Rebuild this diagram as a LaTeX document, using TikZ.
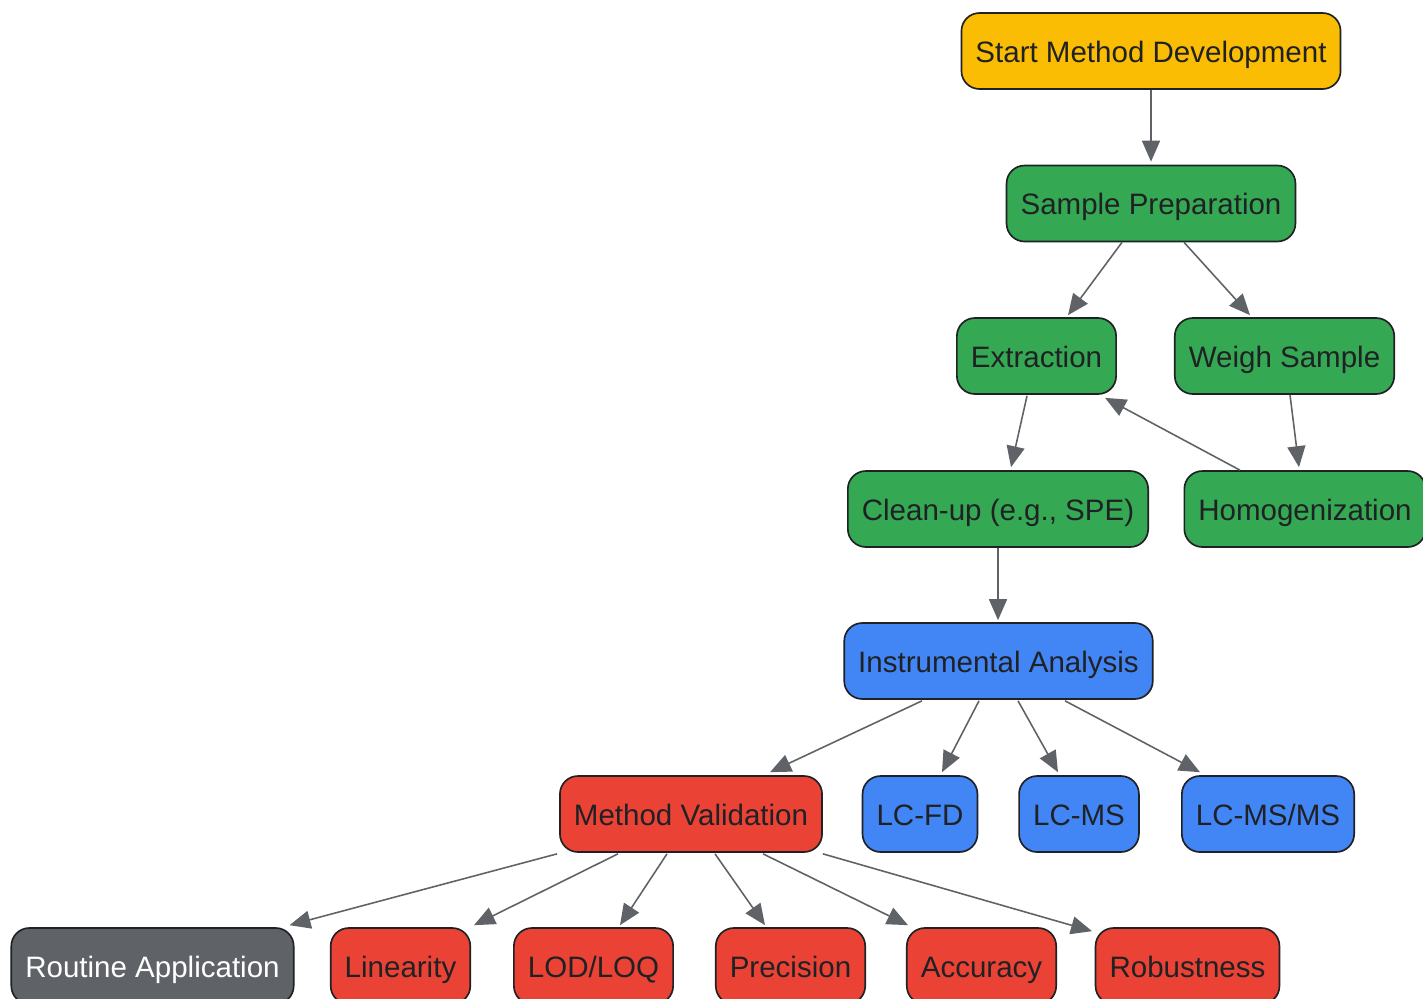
\documentclass[tikz,border=0pt]{standalone}
\usepackage{fontspec}
\setmainfont{Liberation Sans}
\usetikzlibrary{arrows.meta,calc}

\definecolor{gyellow}{HTML}{FBBC04}
\definecolor{ggreen}{HTML}{34A853}
\definecolor{gblue}{HTML}{4285F4}
\definecolor{gred}{HTML}{EA4335}
\definecolor{ggrey}{HTML}{5F6368}
\definecolor{txtdark}{HTML}{202124}

\begin{document}
\begin{tikzpicture}[x=0.02cm, y=-0.02cm]
% Definir estilos
\tikzset{
  box/.style={rectangle, rounded corners=0.36cm, draw=txtdark, line width=0.95pt,
    minimum height=1.52cm, inner xsep=0.28cm, text=txtdark,
    text height=1.42em, text depth=0.13em,
    font=\fontsize{16.8}{20}\selectfont},
  prep/.style={box, fill=ggreen},
  instr/.style={box, fill=gblue},
  valid/.style={box, fill=gred},
  flow/.style={-{Triangle[length=0.42cm, width=0.36cm]}, line width=0.9pt, draw=ggrey}
}
\useasboundingbox (0,0) rectangle (1423,998);

% Preparacion de muestra
\node[box, fill=gyellow] (start) at (1151,51) {Start Method Development};
\node[prep] (sp) at (1151,203.5) {Sample Preparation};
\node[prep] (ext) at (1036.5,356) {Extraction};
\node[prep] (weigh) at (1284.5,356) {Weigh Sample};
\node[prep] (clean) at (998,509) {Clean-up (e.g., SPE)};
\node[prep] (homog) at (1305,509) {Homogenization};

% Analisis instrumental
\node[instr] (instr) at (998.5,661) {Instrumental Analysis};
\node[valid] (mv) at (691,814) {Method Validation};
\node[instr] (lcfd) at (920,814) {LC-FD};
\node[instr] (lcms) at (1079,814) {LC-MS};
\node[instr] (lcmsms) at (1268,814) {LC-MS/MS};

% Validacion
\node[box, fill=ggrey, text=white] (routine) at (152.5,966) {Routine Application};
\node[valid] (lin) at (400.5,966) {Linearity};
\node[valid] (lod) at (593.5,966) {LOD/LOQ};
\node[valid] (prec) at (790.5,966) {Precision};
\node[valid] (acc) at (981.5,966) {Accuracy};
\node[valid] (rob) at (1187.5,966) {Robustness};

% Flujo
\draw[flow] (start.south) -- ($(sp.north)+(0,-3)$);
\draw[flow] ($(sp.south)+(-29,0)$) -- ($(ext.north)+(31.5,-2)$);
\draw[flow] ($(sp.south)+(33,0)$) -- ($(weigh.north)+(-34.5,-2)$);
\draw[flow] ($(weigh.south)+(5.5,0)$) -- ($(homog.north)+(-6,-3)$);
\draw[flow] ($(homog.north)+(-65,0)$) -- ($(ext.south)+(68.5,3)$);
\draw[flow] ($(ext.south)+(-9.5,1)$) -- ($(clean.north)+(13,-3)$);
\draw[flow] (clean.south) -- ($(instr.north)+(-0.5,-2)$);

\draw[flow] ($(instr.south)+(-76.5,1)$) -- ($(mv.north)+(79,-3)$);
\draw[flow] ($(instr.south)+(-19.5,1)$) -- ($(lcfd.north)+(22,-3)$);
\draw[flow] ($(instr.south)+(19.5,1)$) -- ($(lcms.north)+(-21,-3)$);
\draw[flow] ($(instr.south)+(66.5,1)$) -- ($(lcmsms.north)+(-68,-3)$);

\draw[flow] ($(mv.south west)+(-2,1)$) -- ($(routine.north east)+(-5,-2)$);
\draw[flow] ($(mv.south)+(-73,1)$) -- ($(lin.north)+(73.5,-2)$);
\draw[flow] ($(mv.south)+(-24,1)$) -- ($(lod.north)+(26.5,-2)$);
\draw[flow] ($(mv.south)+(24,1)$) -- ($(prec.north)+(-25.5,-2)$);
\draw[flow] ($(mv.south)+(72,1)$) -- ($(acc.north)+(-73.5,-2)$);
\draw[flow] ($(mv.south east)+(0,1)$) -- ($(rob.north)+(-95.5,4)$);
\end{tikzpicture}
\end{document}
